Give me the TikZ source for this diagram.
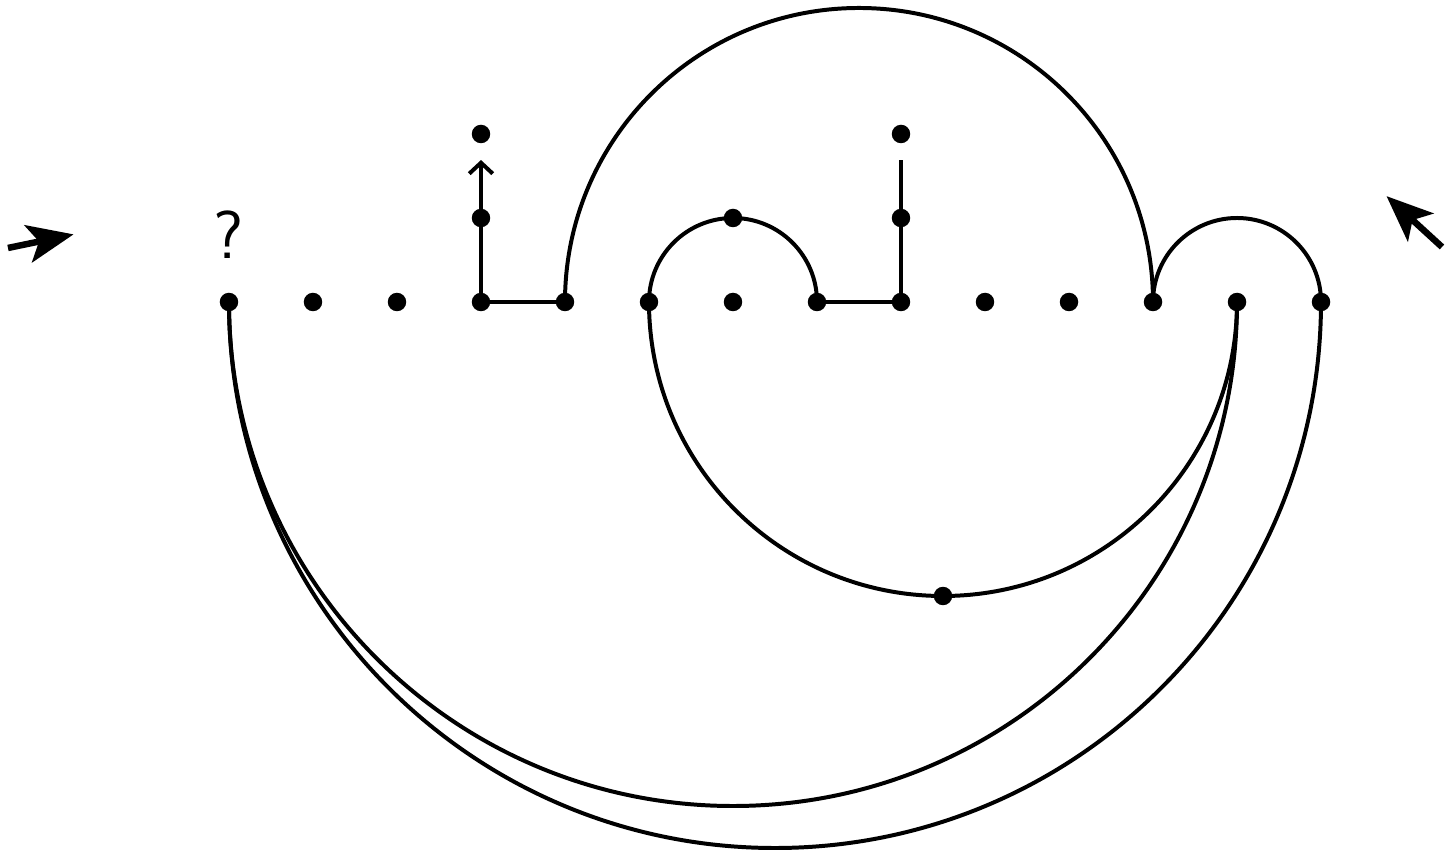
\documentclass[tikz,border=0pt]{standalone}
\usetikzlibrary{arrows.meta}
\begin{document}
\begin{tikzpicture}[x=1cm,y=1cm, line width=1.35pt,
    dot/.style={fill=black},
    bigarrow/.style={line width=2.2pt, -{Stealth[length=5.5mm, width=4.5mm, inset=1.3mm]}}]

    % Frame
    \useasboundingbox (-2.726,-6.548) rectangle (14.607,3.595);

    % Points on the base line
    \foreach \i in {0,...,13} {
        \coordinate (p\i) at (\i, 0);
        \fill[dot] (p\i) circle (0.11);
    }

    % Points above the line
    \coordinate (u1) at (3, 1);
    \coordinate (u2) at (3, 2);
    \coordinate (v1) at (8, 1);
    \coordinate (v2) at (8, 2);
    \coordinate (w) at (6, 1);
    \coordinate (m) at (8.5, -3.5);
    \coordinate (ua) at (3, 1.69);
    \coordinate (va) at (8, 1.69);
    \fill[dot] (u1) circle (0.11);
    \fill[dot] (u2) circle (0.11);
    \fill[dot] (v1) circle (0.11);
    \fill[dot] (v2) circle (0.11);
    \fill[dot] (w) circle (0.11);
    \fill[dot] (m) circle (0.11);

    % Question mark
    \node[font=\sffamily\fontsize{23}{26}\selectfont] (q) at (0, 0.8) {?};

    % Straight pieces
    \draw[-{Straight Barb[length=1.3mm, width=2.8mm]}] (p3) -- (ua);
    \draw (p3) -- (p4);
    \draw (p7) -- (p8) -- (va);

    % Arcs above
    \draw (p4) arc[start angle=180, end angle=0, radius=3.5];
    \draw (p5) arc[start angle=180, end angle=0, radius=1];
    \draw (p11) arc[start angle=180, end angle=0, radius=1];

    % Arcs below
    \draw (p5) arc[start angle=180, end angle=360, radius=3.5];
    \draw (p0) arc[start angle=180, end angle=360, radius=6];
    \draw (p0) arc[start angle=180, end angle=360, radius=6.5];

    % Outer arrows
    \coordinate (la) at (-2.631, 0.643);
    \coordinate (lb) at (-1.85, 0.805);
    \coordinate (ra) at (14.44, 0.655);
    \coordinate (rb) at (13.78, 1.26);
    \draw[bigarrow] (la) -- (lb);
    \draw[bigarrow] (ra) -- (rb);

\end{tikzpicture}
\end{document}
